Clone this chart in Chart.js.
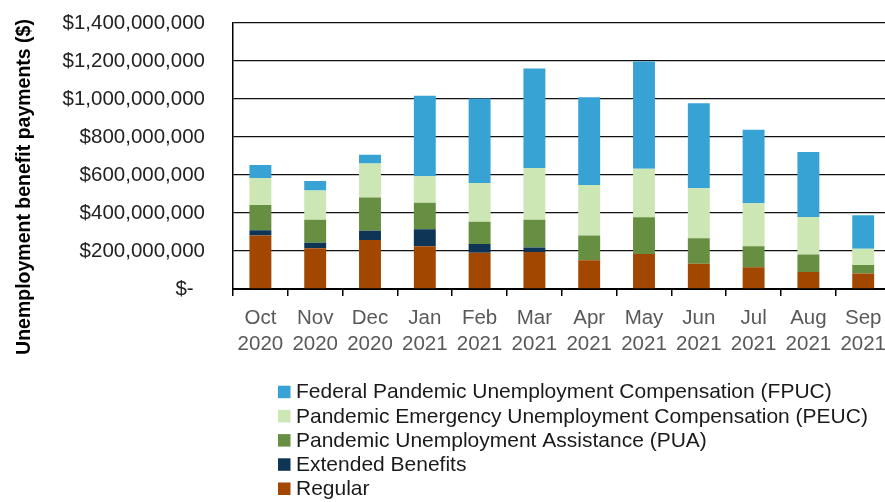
<!DOCTYPE html>
<html>
<head>
<meta charset="utf-8">
<script src="https://cdn.jsdelivr.net/npm/chart.js@4.4.1/dist/chart.umd.min.js"></script>
<style>
  html, body { margin: 0; padding: 0; background: #fff; overflow: hidden; }
  #wrap { position: relative; width: 896px; height: 502px; }
  canvas { display: block; }
</style>
</head>
<body>
<div id="wrap"><canvas id="c" width="896" height="502" style="width:896px;height:502px"></canvas></div>
<script>
// ---- data ----
const months = ['Oct','Nov','Dec','Jan','Feb','Mar','Apr','May','Jun','Jul','Aug','Sep'];
const years  = ['2020','2020','2020','2021','2021','2021','2021','2021','2021','2021','2021','2021'];
const regular  = [282e6,214e6,258e6,225e6,191e6,195e6,151e6,184e6,133e6,114e6,89e6,82e6];
const extended = [27e6,30e6,49e6,89e6,46e6,24e6,0,0,0,0,0,0];
const pua      = [133e6,121e6,175e6,140e6,117e6,146e6,130e6,193e6,134e6,111e6,93e6,44e6];
const peuc     = [142e6,153e6,178e6,139e6,204e6,272e6,266e6,256e6,263e6,226e6,197e6,86e6];
const fpuc     = [69e6,50e6,47e6,424e6,445e6,523e6,462e6,565e6,447e6,387e6,342e6,176e6];
const seriesNames = ['Regular','Extended Benefits','Pandemic Unemployment Assistance (PUA)',
  'Pandemic Emergency Unemployment Compensation (PEUC)','Federal Pandemic Unemployment Compensation (FPUC)'];
const yTitle = 'Unemployment benefit payments ($)';

const colors = ['#A24700','#0F3556','#668F42','#CCE6B4','#37A3D4'];
const FONT = '"Liberation Sans", Arial, sans-serif';

const labels = months.map((m, i) => [m, years[i]]);
const seriesData = [regular, extended, pua, peuc, fpuc];

const datasets = seriesData.map((d, i) => ({
  label: seriesNames[i],
  data: d,
  backgroundColor: colors[i],
  borderWidth: 0,
  categoryPercentage: 1.0,
  barPercentage: 0.4
}));

const extras = {
  id: 'extras',
  afterDraw(chart) {
    const ctx = chart.ctx;
    ctx.save();
    // y title
    ctx.font = 'bold 19.5px ' + FONT;
    ctx.fillStyle = '#000';
    ctx.textAlign = 'center';
    ctx.textBaseline = 'middle';
    ctx.translate(25, 187);
    ctx.rotate(-Math.PI / 2);
    ctx.fillText(yTitle, 0, 0);
    ctx.restore();
    // legend (one item per line, top series first)
    ctx.save();
    ctx.font = '21px ' + FONT;
    ctx.textBaseline = 'middle';
    ctx.textAlign = 'left';
    const ds = chart.data.datasets.slice().reverse();
    ds.forEach((d, k) => {
      const y = 391.7 + k * 24.2;
      ctx.fillStyle = d.backgroundColor;
      ctx.fillRect(278, y - 6, 12.5, 12.5);
      ctx.fillStyle = '#1a1a1a';
      ctx.fillText(d.label, 296, y + 1);
    });
    ctx.restore();
  }
};

new Chart(document.getElementById('c'), {
  type: 'bar',
  data: { labels, datasets },
  plugins: [extras],
  options: {
    responsive: false,
    maintainAspectRatio: false,
    animation: false,
    devicePixelRatio: 1,
    layout: { padding: { top: 23, bottom: 130, left: 0, right: 0 } },
    plugins: { legend: { display: false }, tooltip: { enabled: false } },
    scales: {
      x: {
        stacked: true,
        grid: { display: true, drawOnChartArea: false, drawTicks: true, tickLength: 7, color: '#000', tickColor: '#000', lineWidth: 1.5 },
        border: { display: true, color: '#000', width: 2 },
        ticks: { color: '#595959', font: { family: FONT, size: 20.5, lineHeight: 1.25 }, padding: 10, maxRotation: 0, autoSkip: false },
        afterFit(s) { s.height = 502 - 130 - 289; }
      },
      y: {
        stacked: true,
        min: 0, max: 1400e6,
        grid: { color: '#111', lineWidth: 1.3, drawTicks: true, tickLength: 24, tickColor: 'rgba(0,0,0,0)' },
        border: { display: true, color: '#000', width: 1.5 },
        ticks: {
          stepSize: 200e6,
          color: '#222',
          padding: 4,
          font: { family: FONT, size: 20.5 },
          callback: v => v === 0 ? '$-  ' : '$' + Number(v).toLocaleString('en-US')
        },
        afterFit(s) { s.width = 233; }
      }
    }
  }
});
</script>
</body>
</html>
